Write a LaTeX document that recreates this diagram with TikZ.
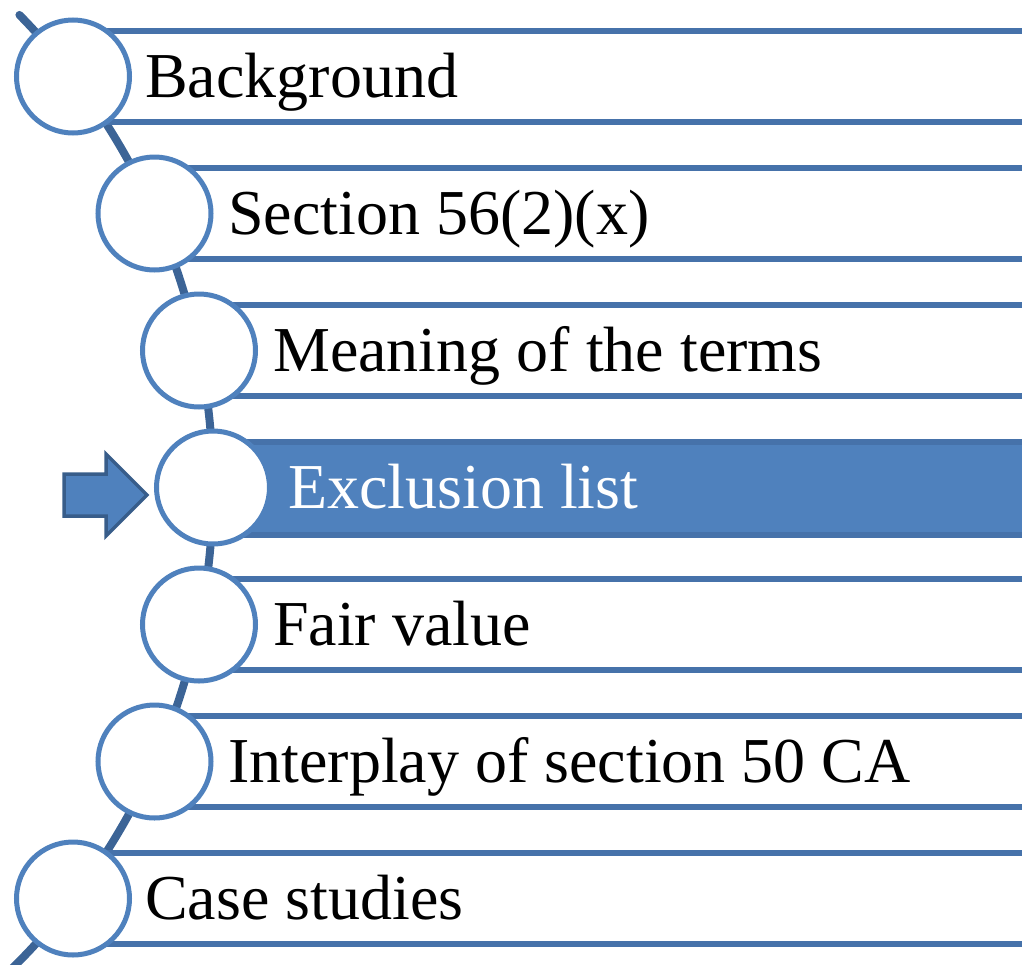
\documentclass[tikz,border=0pt]{standalone}
\usepackage{fontspec}
\setmainfont{Liberation Serif}
\definecolor{circblue}{HTML}{4F81BD}
\definecolor{lineblue}{HTML}{4672AA}
\definecolor{arcblue}{HTML}{3C6496}
\definecolor{arrowedge}{HTML}{385D8A}
\begin{document}
\begin{tikzpicture}[x=1pt,y=-1pt,
  rowline/.style={draw=lineblue,line width=6pt},
  bubble/.style={circle,draw=circblue,line width=5pt,fill=white,minimum size=113pt,inner sep=0pt},
  label/.style={anchor=base west,inner sep=0pt,font=\fontsize{64}{70}\selectfont},
  spine/.style={draw=arcblue,line width=8pt,line cap=round}]
\clip (0,0) rectangle (1022,964);
% spine arc
\draw[spine] (-462,488) ++(-44.5:675) arc[start angle=-44.5,end angle=46,radius=675];
% rows: centre y = 76.5 + 137 i
\foreach \i/\cx in {1/73,2/154.5,3/199,5/199,6/154.5,7/73}{
  \pgfmathsetmacro{\cy}{76.5+137*(\i-1)}
  \coordinate (ta\i) at (\cx,\cy-45.5);
  \coordinate (tb\i) at (1030,\cy-45.5);
  \coordinate (ba\i) at (\cx,\cy+45.5);
  \coordinate (bb\i) at (1030,\cy+45.5);
  \draw[rowline] (ta\i) -- (tb\i);
  \draw[rowline] (ba\i) -- (bb\i);
}
% highlighted row
\coordinate (h1) at (213,441.5);
\coordinate (h2) at (1030,534.5);
\draw[rowline,fill=circblue] (h1) rectangle (h2);
% circles
\node[bubble] (c1) at (73,76.5) {};
\node[bubble] (c2) at (154.5,213.5) {};
\node[bubble] (c3) at (199,350.5) {};
\node[bubble] (c4) at (213,487.5) {};
\node[bubble] (c5) at (199,624.5) {};
\node[bubble] (c6) at (154.5,761.5) {};
\node[bubble] (c7) at (73,898.5) {};
% labels
\node[label] (t1) at (145,97) {Background};
\node[label] (t2) at (228,234) {Section 56(2)(x)};
\node[label] (t3) at (273,371) {Meaning of the terms};
\node[label,text=white] (t4) at (288,508) {Exclusion list};
\node[label] (t5) at (273,645) {Fair value};
\node[label] (t6) at (228,782) {Interplay of section 50 CA};
\node[label] (t7) at (145,919) {Case studies};
% pointer arrow
\draw[fill=circblue,draw=arrowedge,line width=3.5pt,line join=miter]
  (64,474) -- (106,474) -- (106,454) -- (147,495) -- (106,536) -- (106,516) -- (64,516) -- cycle;
\end{tikzpicture}
\end{document}
